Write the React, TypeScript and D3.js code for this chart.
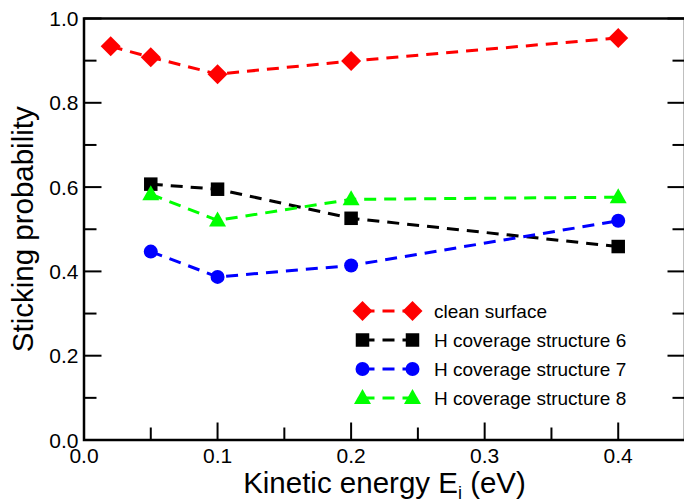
import React from "react";
import * as d3 from "d3";

// Kinetic energies (eV) at which sticking probabilities were computed
const energiesClean = [0.02, 0.05, 0.1, 0.2, 0.4];
const energiesH = [0.05, 0.1, 0.2, 0.4];

// Sticking probabilities
const cleanSurface = [0.934, 0.908, 0.868, 0.899, 0.954];
const hStructure6 = [0.607, 0.595, 0.526, 0.459];
const hStructure7 = [0.447, 0.387, 0.414, 0.520];
const hStructure8 = [0.583, 0.521, 0.571, 0.576];

const seriesNames = [
  "clean surface",
  "H coverage structure 6",
  "H coverage structure 7",
  "H coverage structure 8",
];

const xTickLabels = ["0.0", "0.1", "0.2", "0.3", "0.4"];
const yTickLabels = ["0.0", "0.2", "0.4", "0.6", "0.8", "1.0"];

type Shape = "diamond" | "square" | "circle" | "triangle";

const W = 684;
const H = 504;
const left = 84;
const right = 685;
const top = 18.5;
const bottom = 440;

const FONT = "'Liberation Sans', Arial, Helvetica, sans-serif";

function Marker({ shape, x, y, color }: { shape: Shape; x: number; y: number; color: string }) {
  if (shape === "diamond") {
    const r = 10;
    return <path d={`M${x},${y - r}L${x + r},${y}L${x},${y + r}L${x - r},${y}Z`} fill={color} />;
  }
  if (shape === "square") {
    const s = 13.5;
    return <rect x={x - s / 2} y={y - s / 2} width={s} height={s} fill={color} />;
  }
  if (shape === "circle") {
    return <circle cx={x} cy={y} r={7} fill={color} />;
  }
  const hw = 8.5;
  return <path d={`M${x},${y - 9}L${x + hw},${y + 6}L${x - hw},${y + 6}Z`} fill={color} />;
}

export default function App() {
  const x = d3.scaleLinear().domain([0, 0.45]).range([left, right]);
  const y = d3.scaleLinear().domain([0, 1]).range([bottom, top]);

  const series = [
    { name: seriesNames[0], xs: energiesClean, ys: cleanSurface, color: "#ff0000", shape: "diamond" as Shape },
    { name: seriesNames[1], xs: energiesH, ys: hStructure6, color: "#000000", shape: "square" as Shape },
    { name: seriesNames[2], xs: energiesH, ys: hStructure7, color: "#0000ff", shape: "circle" as Shape },
    { name: seriesNames[3], xs: energiesH, ys: hStructure8, color: "#00ff00", shape: "triangle" as Shape },
  ];

  const line = d3
    .line<[number, number]>()
    .x((d) => x(d[0]))
    .y((d) => y(d[1]));

  const xMajor = d3.range(0, 5).map((i) => i * 0.1);
  const xMinor = d3.range(0, 9).map((i) => i * 0.05).filter((_, i) => i % 2 === 1);
  const yMajor = d3.range(0, 6).map((i) => i * 0.2);
  const yMinor = d3.range(0, 5).map((i) => i * 0.2 + 0.1);

  const majorLen = 17.5;
  const minorLen = 12.5;

  const legendX1 = 362.5;
  const legendX2 = 412.5;
  const legendY0 = 311;
  const legendDy = 29;

  return (
    <svg
      width={W}
      height={H}
      style={{ position: "absolute", left: 0, top: 0, background: "#fff" }}
      fontFamily={FONT}
    >
      <rect width={W} height={H} fill="#fff" />

      {/* data lines */}
      {series.map((s) => (
        <path
          key={s.name + "-line"}
          d={line(s.xs.map((v, i) => [v, s.ys[i]] as [number, number])) || ""}
          fill="none"
          stroke={s.color}
          strokeWidth={3}
          strokeDasharray="12 8"
        />
      ))}
      {series.map((s) =>
        s.xs.map((v, i) => (
          <Marker key={s.name + i} shape={s.shape} x={x(v)} y={y(s.ys[i])} color={s.color} />
        ))
      )}

      {/* frame */}
      <path
        d={`M${left},${top}H${right}V${bottom}H${left}Z`}
        fill="none"
        stroke="#000"
        strokeWidth={2.5}
      />

      {/* x ticks */}
      {xMajor.map((v) => (
        <line key={"xM" + v} x1={x(v)} x2={x(v)} y1={bottom} y2={bottom - majorLen} stroke="#000" strokeWidth={2} />
      ))}
      {xMinor.map((v) => (
        <line key={"xm" + v} x1={x(v)} x2={x(v)} y1={bottom} y2={bottom - minorLen} stroke="#000" strokeWidth={2} />
      ))}
      {xMajor.map((v, i) => (
        <text key={"xl" + v} x={x(v)} y={463} fontSize={21} textAnchor="middle" fill="#000">
          {xTickLabels[i]}
        </text>
      ))}

      {/* y ticks, both sides */}
      {yMajor.map((v) => (
        <g key={"yM" + v}>
          <line x1={left} x2={left + majorLen} y1={y(v)} y2={y(v)} stroke="#000" strokeWidth={2} />
          <line x1={right} x2={right - majorLen} y1={y(v)} y2={y(v)} stroke="#000" strokeWidth={2} />
        </g>
      ))}
      {yMinor.map((v) => (
        <g key={"ym" + v}>
          <line x1={left} x2={left + minorLen} y1={y(v)} y2={y(v)} stroke="#000" strokeWidth={2} />
          <line x1={right} x2={right - minorLen} y1={y(v)} y2={y(v)} stroke="#000" strokeWidth={2} />
        </g>
      ))}
      {yMajor.map((v, i) => (
        <text key={"yl" + v} x={78.5} y={y(v) + 7.5} fontSize={21} textAnchor="end" fill="#000">
          {yTickLabels[i]}
        </text>
      ))}

      {/* axis titles */}
      <text x={(left + right) / 2} y={493} fontSize={29.5} textAnchor="middle" fill="#000">
        Kinetic energy E
        <tspan fontSize={18} dy={6}>i</tspan>
        <tspan dy={-6}> (eV)</tspan>
      </text>
      <text
        transform={`translate(33,${(top + bottom) / 2}) rotate(-90)`}
        fontSize={29.5}
        textAnchor="middle"
        fill="#000"
      >
        Sticking probability
      </text>

      {/* legend */}
      {series.map((s, i) => {
        const ly = legendY0 + i * legendDy;
        return (
          <g key={s.name + "-legend"}>
            <line
              x1={legendX1}
              x2={legendX2}
              y1={ly}
              y2={ly}
              stroke={s.color}
              strokeWidth={3}
              strokeDasharray="12 8"
            />
            <Marker shape={s.shape} x={legendX1} y={ly} color={s.color} />
            <Marker shape={s.shape} x={legendX2} y={ly} color={s.color} />
            <text x={434} y={ly + 6.5} fontSize={19} fill="#000">
              {s.name}
            </text>
          </g>
        );
      })}
    </svg>
  );
}
